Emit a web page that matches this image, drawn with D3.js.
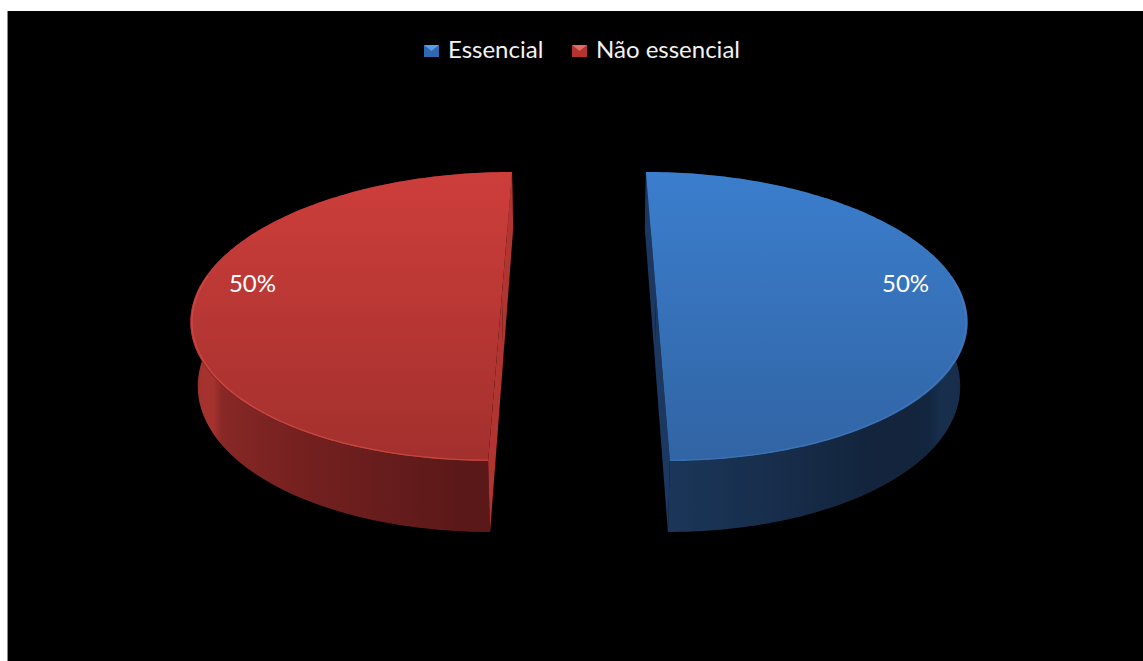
<!DOCTYPE html>
<html>
<head>
<meta charset="utf-8">
<script src="https://cdn.jsdelivr.net/npm/d3@7"></script>
<style>
  html, body { margin: 0; padding: 0; background: #ffffff; }
  svg { display: block; }
</style>
</head>
<body>
<svg id="chart" width="1143" height="661"></svg>
<script>
// Chart data
const categories = ["Essencial", "Não essencial"];
const values = [50, 50];
const valueLabels = ["50%", "50%"];

// Palette per category: top face gradient, radial cut face
const topTop = ["#3b7ecd", "#cd3e3b"];
const topBottom = ["#3164a4", "#a3302d"];
const cutFill = ["#1c3860", "#b23431"];

const W = 1143, H = 661;
const svg = d3.select("#chart");
const defs = svg.append("defs");

// Page frame: black plotting area with a thin grey left edge
svg.append("rect").attr("x", 7).attr("y", 11).attr("width", W - 7).attr("height", H - 11).attr("fill", "#000");
svg.append("line").attr("x1", 7.5).attr("x2", 7.5).attr("y1", 11).attr("y2", H).attr("stroke", "#8a8a8a").attr("stroke-width", 1);

// Perspective camera for the 3D pie
const phi = 27.5 * Math.PI / 180;
const sn = Math.sin(phi), cs = Math.cos(phi);
const camDist = 5.845;   // camera distance in pie radii
const focal = 1788;      // px
const cx = 579, cy = 294.6;
const explode = 0.252;   // slice explosion in radii
const depth = 0.238;     // pie thickness in radii

function project(X, Y, Z) {
  const xc = X;
  const yc = Y * cs - Z * sn;
  const zc = camDist - Y * sn - Z * cs;
  return [cx + focal * xc / zc, cy - focal * yc / zc, zc];
}

const pie = d3.pie().sort(null).startAngle(0).endAngle(2 * Math.PI);
const arcs = pie(values);

// Side wall colour ramps along the pie angle
const wallScale = [
  d3.scaleLinear().domain([0, Math.PI * 0.5, Math.PI * 0.78, Math.PI]).range(["#172d4b", "#172e4d", "#12233a", "#1b3659"]).clamp(true),
  d3.scaleLinear().domain([Math.PI, Math.PI * 1.5, Math.PI * 2]).range(["#571717", "#a5322f", "#a5322f"]).clamp(true)
];
const rimColor = ["#5b93d8", "#e2564f"];
const rimOpacity = [0.3, 0.55];

const STEPS = 160;
const line = d3.line();
const xy = p => [p[0], p[1]];

arcs.forEach((a, i) => {
  const mid = (a.startAngle + a.endAngle) / 2;
  const ox = explode * Math.sin(mid), oz = -explode * Math.cos(mid);
  const P = (ang, r, Y) => project(ox + r * Math.sin(ang), Y, oz - r * Math.cos(ang));
  const angAt = k => a.startAngle + (a.endAngle - a.startAngle) * k / STEPS;
  const g = svg.append("g").attr("class", "slice slice-" + i);

  // outer wall as one surface, shaded by a horizontal gradient
  const topArc = d3.range(STEPS + 1).map(k => P(angAt(k), 1, 0));
  const botArc = d3.range(STEPS + 1).map(k => P(angAt(k), 1, -depth)).reverse();
  const front = d3.range(STEPS + 1).map(k => angAt(k)).filter(ang => -Math.cos(ang) > -0.25);
  const fx = front.map(ang => P(ang, 1, -depth)[0]);
  const x0 = d3.min(fx), x1 = d3.max(fx);
  const wallId = "wallGrad" + i;
  const wg = defs.append("linearGradient").attr("id", wallId)
    .attr("gradientUnits", "userSpaceOnUse")
    .attr("x1", x0).attr("x2", x1).attr("y1", 0).attr("y2", 0);
  front.map((ang, k) => ({ off: (fx[k] - x0) / (x1 - x0), col: wallScale[i](ang) }))
    .sort((u, v) => u.off - v.off)
    .filter((d, k) => k % 8 === 0)
    .forEach(d => wg.append("stop").attr("offset", d.off).attr("stop-color", d.col));
  g.append("path")
    .attr("d", line(topArc.concat(botArc).map(xy)) + "Z")
    .attr("fill", "url(#" + wallId + ")");

  // radial cut faces
  [a.startAngle, a.endAngle].forEach(ang => {
    const pts = [P(ang, 0, 0), P(ang, 1, 0), P(ang, 1, -depth), P(ang, 0, -depth)];
    g.append("path")
      .attr("d", line(pts.map(xy)) + "Z")
      .attr("fill", cutFill[i]);
  });

  // top face with vertical gradient
  const gradId = "topGrad" + i;
  const gr = defs.append("linearGradient").attr("id", gradId)
    .attr("gradientUnits", "userSpaceOnUse")
    .attr("x1", 0).attr("x2", 0)
    .attr("y1", project(0, 0, -1)[1]).attr("y2", project(0, 0, 1)[1]);
  gr.append("stop").attr("offset", "0%").attr("stop-color", topTop[i]);
  gr.append("stop").attr("offset", "100%").attr("stop-color", topBottom[i]);

  g.append("path")
    .attr("d", line([P(0, 0, 0)].concat(topArc).map(xy)) + "Z")
    .attr("fill", "url(#" + gradId + ")");

  // soft rim highlight along the front edge of the top face
  const rimPts = d3.range(STEPS + 1).map(k => angAt(k))
    .filter(ang => -Math.cos(ang) > -0.15)
    .map(ang => P(ang, 0.995, 0));
  g.append("path")
    .attr("d", line(rimPts.map(xy)))
    .attr("fill", "none")
    .attr("stroke", rimColor[i])
    .attr("stroke-opacity", rimOpacity[i])
    .attr("stroke-width", 1.3);

  // value label on the top face
  const lp = project(ox + 0.83 * Math.sin(mid), 0, oz - 0.83 * Math.cos(mid) - 0.09);
  g.append("text")
    .attr("x", lp[0]).attr("y", lp[1])
    .attr("text-anchor", "middle")
    .attr("dominant-baseline", "central")
    .attr("font-family", "Lato, 'Open Sans', sans-serif")
    .attr("font-size", 24)
    .attr("fill", "#ffffff")
    .text(valueLabels[i]);
});

// Legend
const legendX = [424, 572];
const legendMarkTop = ["#5a9ae6", "#e06a66"];
const legendMarkBase = ["#2f67b0", "#b5332f"];
const lg = svg.append("g").attr("class", "legend");
categories.forEach((name, i) => {
  const x = legendX[i], y = 45;
  lg.append("rect").attr("x", x).attr("y", y).attr("width", 15).attr("height", 12).attr("fill", legendMarkBase[i]);
  lg.append("path")
    .attr("d", `M${x},${y}L${x + 15},${y}L${x + 7.5},${y + 6}Z`)
    .attr("fill", legendMarkTop[i]);
  lg.append("text")
    .attr("x", x + 24).attr("y", 57.5)
    .attr("font-family", "Lato, 'Open Sans', sans-serif")
    .attr("font-size", 24)
    .attr("fill", "#f2f2f2")
    .text(name);
});
</script>
</body>
</html>
